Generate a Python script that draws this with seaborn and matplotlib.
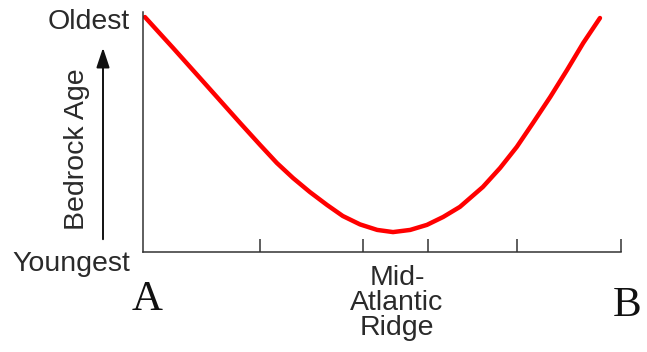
import pandas as pd
import seaborn as sns
import matplotlib.pyplot as plt
from matplotlib.patches import FancyArrowPatch

# distance from A (0) to B (100) and relative bedrock age (0 youngest .. 100 oldest)
distance = [0.4, 6.3, 13.4, 20.3, 24.5, 28.0, 31.4, 34.9, 38.5, 41.8, 45.4, 49.0, 52.3,
            55.9, 59.4, 62.8, 66.3, 71.1, 74.7, 78.2, 81.6, 85.2, 88.7, 92.1, 95.6]
age = [97.9, 85.0, 69.2, 53.8, 44.6, 37.1, 30.8, 25.0, 19.6, 15.0, 11.5, 9.2, 8.3,
       9.2, 11.3, 14.6, 18.8, 27.1, 35.0, 43.8, 53.8, 64.6, 75.8, 87.1, 97.5]
tick_pos = [24.5, 46.0, 59.6, 78.2, 100]

sns.set_style('white')
plt.rcParams['font.family'] = ['Liberation Sans', 'DejaVu Sans']

W, H = 647, 352
fig = plt.figure(figsize=(W / 100, H / 100), dpi=100)
ax = fig.add_axes([143 / W, 1 - 252 / H, (621 - 143) / W, 240 / H])

data = pd.DataFrame({'distance': distance, 'age': age})
sns.lineplot(data=data, x='distance', y='age', color='#ff0000', linewidth=3.2, ax=ax)

ax.set_xlim(0, 100)
ax.set_ylim(0, 100)
ax.set_xticks(tick_pos)
ax.set_xticklabels([])
ax.set_yticks([])
ax.set_xlabel('')
ax.set_ylabel('')
ax.tick_params(axis='x', direction='in', length=9.5, width=1.1, color='#333333', bottom=True)
for s in ['top', 'right']:
    ax.spines[s].set_visible(False)
for s in ['left', 'bottom']:
    ax.spines[s].set_color('#333333')
    ax.spines[s].set_linewidth(1.1)

txt = '#2a2a2a'
def fx(px):
    return px / W
def fy(py):
    return 1 - py / H

fig.text(fx(130), fy(22), 'Oldest', ha='right', va='center', fontsize=20.5, color=txt)
fig.text(fx(130), fy(264), 'Youngest', ha='right', va='center', fontsize=20.5, color=txt)
fig.text(fx(77), fy(149), 'Bedrock Age', ha='center', va='center', rotation=90, fontsize=20.5, color=txt)
fig.text(fx(397), fy(303), 'Mid-\nAtlantic\nRidge', ha='center', va='center', fontsize=20.5,
         color=txt, linespacing=0.93)
fig.text(fx(147), fy(300), 'A', ha='center', va='center', fontsize=31, color='#111111',
         family=['Liberation Serif', 'DejaVu Serif'])
fig.text(fx(627), fy(306), 'B', ha='center', va='center', fontsize=31, color='#111111',
         family=['Liberation Serif', 'DejaVu Serif'])

fig.patches.append(FancyArrowPatch(
    (fx(103), fy(242)), (fx(103), fy(45)), transform=fig.transFigure,
    arrowstyle='-|>,head_length=0.75,head_width=0.25', mutation_scale=16,
    linewidth=1.4, color='#111111'))

fig.savefig('out.png', dpi=100)
